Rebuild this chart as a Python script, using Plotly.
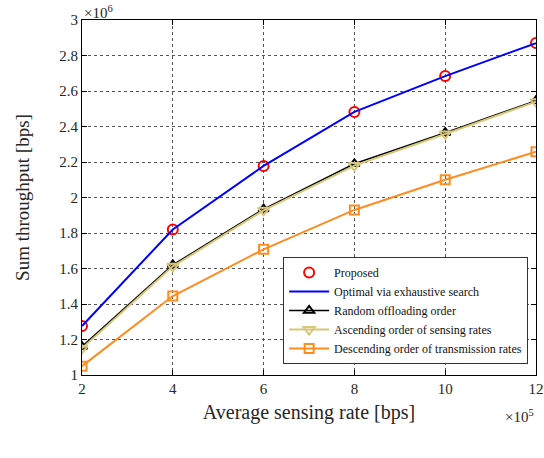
import plotly.graph_objects as go

# x in units of 1e5 bps, y in units of 1e6 bps
x_rate = [2, 4, 6, 8, 10, 12]
proposed = [1.276, 1.82, 2.178, 2.482, 2.684, 2.87]
optimal = [1.276, 1.82, 2.178, 2.482, 2.684, 2.87]
random_order = [1.16, 1.62, 1.935, 2.19, 2.365, 2.545]
ascending = [1.15, 1.612, 1.928, 2.18, 2.358, 2.54]
descending = [1.05, 1.445, 1.708, 1.93, 2.1, 2.258]

x_ticks = [2, 4, 6, 8, 10, 12]
y_ticks = [1, 1.2, 1.4, 1.6, 1.8, 2, 2.2, 2.4, 2.6, 2.8, 3]
y_tick_labels = ["1", "1.2", "1.4", "1.6", "1.8", "2", "2.2", "2.4", "2.6", "2.8", "3"]

FONT = "Liberation Serif"
KHAKI = "#D8C67A"
ORANGE = "#FF8C1F"
TXT = "#262626"

fig = go.Figure()
fig.add_trace(go.Scatter(x=x_rate, y=proposed, name="Proposed", mode="markers",
                         marker=dict(symbol="circle-open", size=10, color="#FF0000", line=dict(width=2))))
fig.add_trace(go.Scatter(x=x_rate, y=optimal, name="Optimal via exhaustive search", mode="lines",
                         line=dict(color="#0000FF", width=2)))
fig.add_trace(go.Scatter(x=x_rate, y=random_order, name="Random offloading order", mode="lines+markers",
                         line=dict(color="black", width=1.5),
                         marker=dict(symbol="triangle-up-open", size=9, color="black", line=dict(width=2))))
fig.add_trace(go.Scatter(x=x_rate, y=ascending, name="Ascending order of sensing rates", mode="lines+markers",
                         line=dict(color=KHAKI, width=2),
                         marker=dict(symbol="triangle-down-open", size=10, color=KHAKI, line=dict(width=2))))
fig.add_trace(go.Scatter(x=x_rate, y=descending, name="Descending order of transmission rates", mode="lines+markers",
                         line=dict(color=ORANGE, width=2),
                         marker=dict(symbol="square-open", size=9, color=ORANGE, line=dict(width=2))))

axis_common = dict(showline=True, linecolor="black", linewidth=1, mirror="ticks", ticks="inside",
                   ticklen=5, tickcolor="black", showgrid=True, gridcolor="#555555", griddash="dot",
                   gridwidth=1, zeroline=False, automargin=False,
                   tickfont=dict(family=FONT, size=15, color=TXT))

fig.update_xaxes(range=[2, 12], tickvals=x_ticks, ticktext=[str(v) for v in x_ticks],
                 title=dict(text="Average sensing rate [bps]", font=dict(family=FONT, size=20, color=TXT), standoff=8),
                 **axis_common)
fig.update_yaxes(range=[1, 3], tickvals=y_ticks, ticktext=y_tick_labels,
                 title=dict(text="Sum throughput [bps]", font=dict(family=FONT, size=19, color=TXT), standoff=24),
                 **axis_common)

fig.add_annotation(xref="paper", yref="paper", x=0, y=1, xanchor="left", yanchor="bottom",
                   text="×10<sup>6</sup>", showarrow=False, font=dict(family=FONT, size=15, color=TXT), yshift=-3)
fig.add_annotation(xref="paper", yref="paper", x=1.0, y=0, xanchor="right", yanchor="top",
                   text="×10<sup>5</sup>", showarrow=False, font=dict(family=FONT, size=15, color=TXT), yshift=-30)

fig.update_layout(
    width=544, height=458,
    margin=dict(l=82, r=8, t=20, b=83),
    paper_bgcolor="white", plot_bgcolor="white",
    font=dict(family=FONT, color=TXT),
    legend=dict(x=0.443, y=0.031, xanchor="left", yanchor="bottom",
                bgcolor="white", bordercolor="#333", borderwidth=1,
                font=dict(family=FONT, size=12, color="#111"),
                tracegroupgap=0, itemwidth=40),
    showlegend=True,
)

fig.write_html("out.html", config={"displayModeBar": False},
               post_script="document.body.style.margin='0';document.body.style.overflow='hidden';")
